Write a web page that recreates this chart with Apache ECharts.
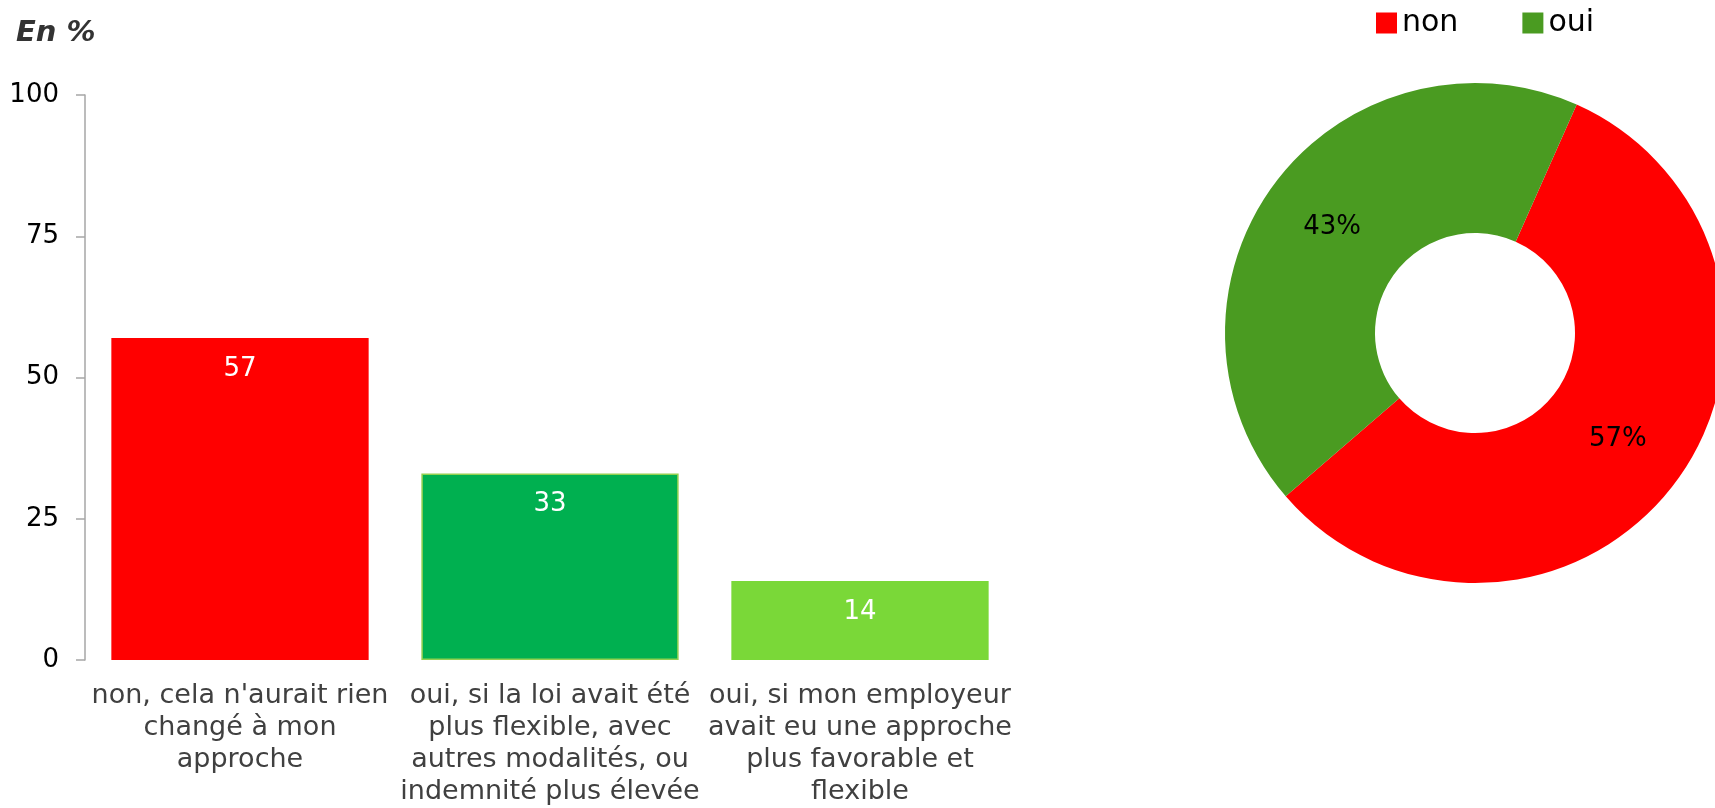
<!DOCTYPE html>
<html>
<head>
<meta charset="utf-8">
<title>En %</title>
<script src="https://cdn.jsdelivr.net/npm/echarts@6/dist/echarts.min.js"></script>
<style>
  html, body { margin: 0; padding: 0; background: #fff; }
  #chart { width: 1715px; height: 808px; }
</style>
</head>
<body>
<div id="chart"></div>
<script>
// bar chart: answers
const categories = [
  "non, cela n'aurait rien\nchangé à mon\napproche",
  "oui, si la loi avait été\nplus flexible, avec\nautres modalités, ou\nindemnité plus élevée",
  "oui, si mon employeur\navait eu une approche\nplus favorable et\nflexible",
];
const barValues = [57, 33, 14];
const barColors = ["#ff0000", "#00b050", "#7ad838"];
const yTicks = [0, 25, 50, 75, 100];

// donut: non / oui
const pieNames = ["non", "oui"];
const pieValues = [57, 43];
const pieColors = ["#ff0000", "#4a9b21"];

const FONT = "'DejaVu Sans', Verdana, sans-serif";

const chart = echarts.init(document.getElementById("chart"));

chart.setOption({
  animation: false,
  textStyle: { fontFamily: FONT },
  title: {
    text: "En %",
    left: 11,
    top: 14,
    textStyle: { fontFamily: FONT, fontSize: 29, fontWeight: "bold", fontStyle: "italic", color: "#333333" },
  },
  legend: {
    data: pieNames,
    left: 1371,
    top: 3,
    itemWidth: 21,
    itemHeight: 21,
    itemGap: 64,
    icon: "rect",
    textStyle: { fontFamily: FONT, fontSize: 30, color: "#000", lineHeight: 30 },
  },
  grid: { left: 85, right: 700, top: 95, bottom: 148 },
  xAxis: {
    type: "category",
    data: categories,
    axisLine: { show: false },
    axisTick: { show: false },
    axisLabel: {
      interval: 0,
      margin: 20,
      fontSize: 27,
      lineHeight: 32,
      color: "#404040",
      align: "center",
    },
  },
  yAxis: {
    type: "value",
    min: yTicks[0],
    max: yTicks[yTicks.length - 1],
    interval: 25,
    axisLine: { show: true, lineStyle: { color: "#a6a6a6", width: 1.5 } },
    axisTick: { show: true, length: 9, lineStyle: { color: "#a6a6a6", width: 1.5 } },
    splitLine: { show: false },
    axisLabel: { margin: 26, fontSize: 26, color: "#000" },
  },
  series: [
    {
      type: "bar",
      barCategoryGap: "17%",
      data: barValues.map((v, i) => ({
        value: v,
        itemStyle: {
          color: barColors[i],
          borderColor: i === 1 ? "#92d050" : barColors[i],
          borderWidth: i === 1 ? 1.5 : 0,
        },
      })),
      label: {
        show: true,
        position: "insideTop",
        distance: 18,
        fontSize: 26,
        color: "#fff",
      },
    },
    {
      type: "pie",
      center: [1475, 333],
      radius: [100, 250],
      startAngle: 66,
      clockwise: true,
      data: pieNames.map((n, i) => ({ name: n, value: pieValues[i], itemStyle: { color: pieColors[i] } })),
      label: {
        show: true,
        position: "inside",
        formatter: "{c}%",
        fontSize: 26,
        color: "#000",
      },
      labelLine: { show: false },
      emphasis: { disabled: true },
    },
  ],
});
</script>
</body>
</html>
